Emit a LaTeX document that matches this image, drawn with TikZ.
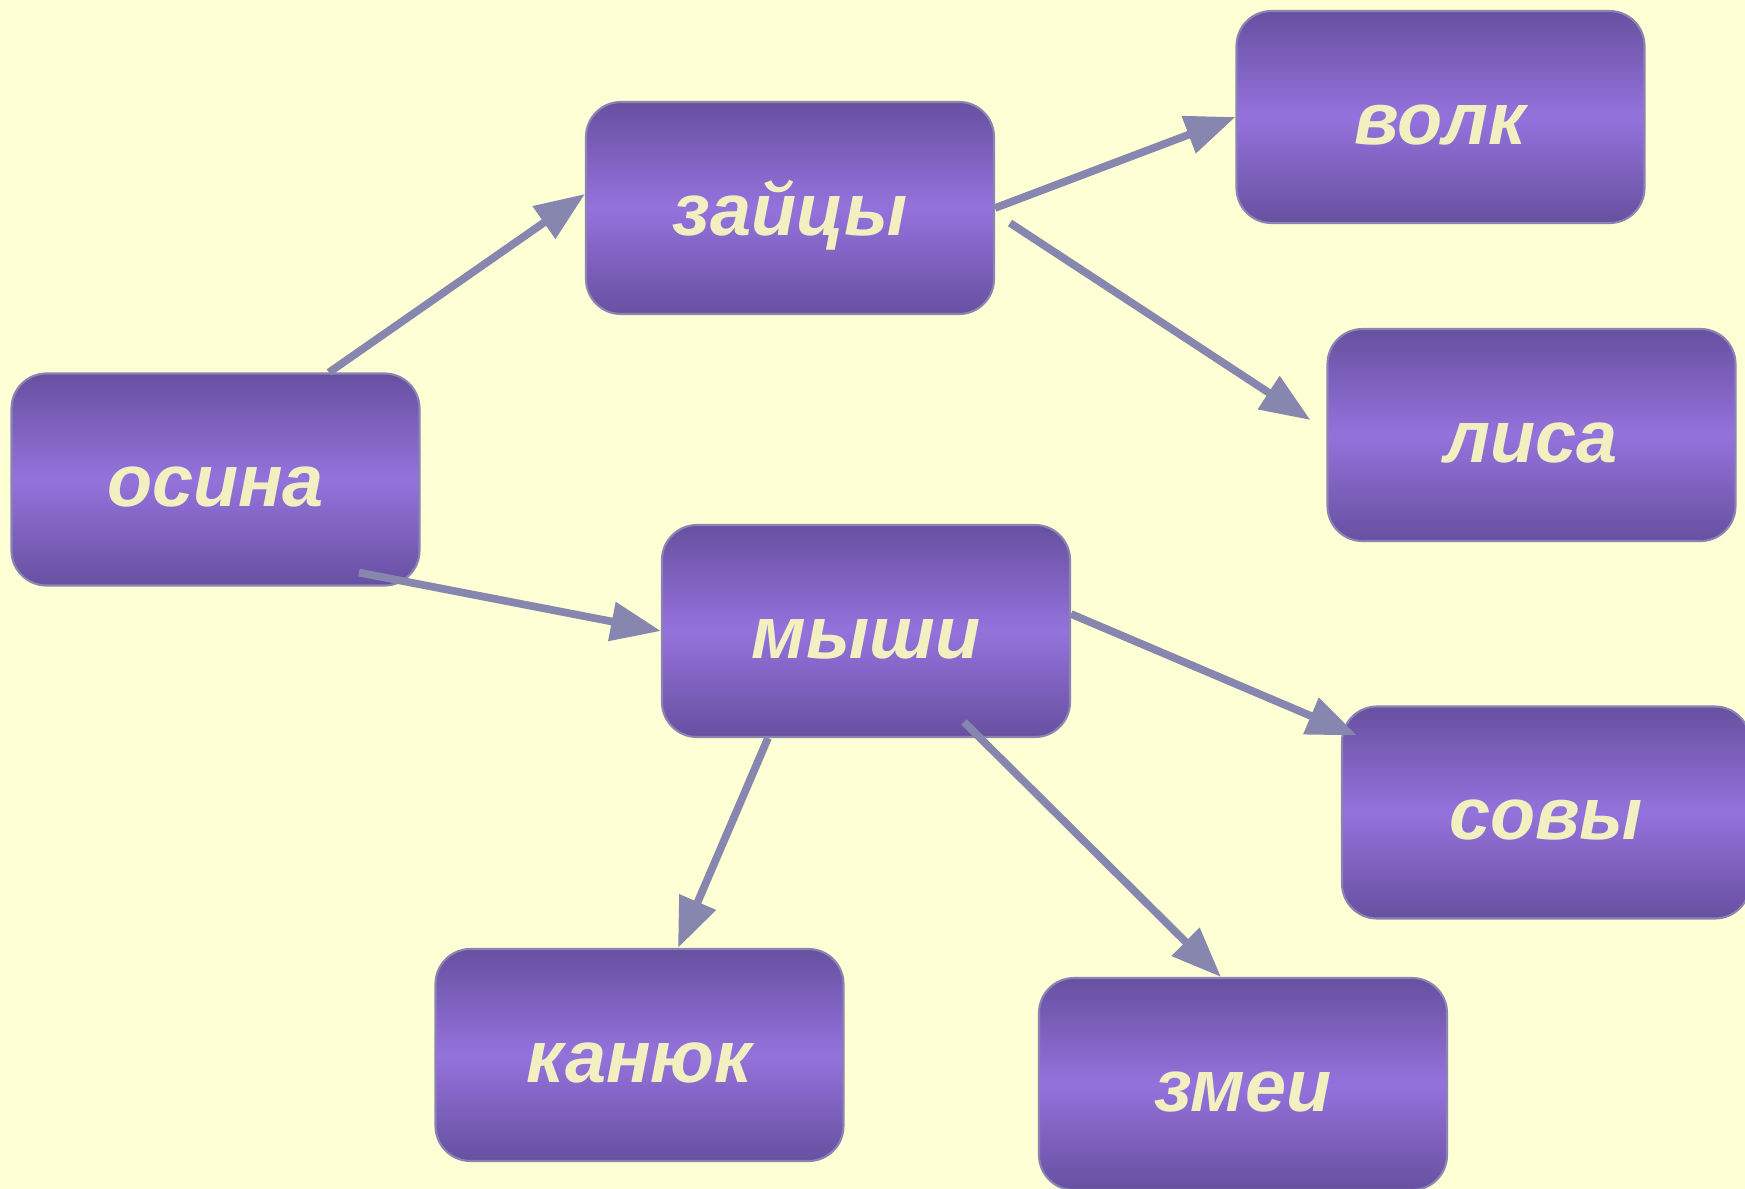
\documentclass[tikz,border=0pt]{standalone}
\usepackage{fontspec}
\setmainfont{Liberation Sans}
\usepackage{tikz}
\usetikzlibrary{arrows.meta,calc}
\definecolor{bgyellow}{RGB}{255,255,214}
\definecolor{boxdark}{RGB}{104,80,160}
\definecolor{boxlight}{RGB}{148,114,220}
\definecolor{boxline}{RGB}{138,132,178}
\definecolor{arrowgray}{RGB}{134,134,174}
\definecolor{wordcream}{RGB}{242,240,192}

\begin{document}
\begin{tikzpicture}[
  food/.style={rounded corners=0.35cm, draw=boxline, line width=0.6pt,
    top color=boxdark, bottom color=boxdark, middle color=boxlight,
    minimum width=4.08cm, minimum height=2.12cm, inner sep=0pt,
    text=wordcream, font=\fontsize{21}{25}\selectfont\bfseries\itshape,
    text height=0.54cm, text depth=0cm},
  eats/.style={draw=arrowgray, line width=2.2pt,
    -{Triangle[length=0.5cm,width=0.38cm]}}]
\fill[bgyellow] (0,0) rectangle (17.45,-11.89);
\useasboundingbox (0,0) rectangle (17.45,-11.89);
\node[food] (osina) at (2.155,-4.795) {осина};
\node[food] (zaycy) at (7.90,-2.08) {зайцы};
\node[food] (volk) at (14.405,-1.17) {волк};
\node[food] (lisa) at (15.315,-4.35) {лиса};
\node[food] (myshi) at (8.66,-6.31) {мыши};
\node[food] (sovy) at (15.46,-8.125) {совы};
\node[food] (kanyuk) at (6.395,-10.55) {канюк};
\node[food] (zmei) at (12.43,-10.84) {змеи};
% arrows
\draw[eats] ([xshift=1.135cm]osina.north) -- ([yshift=0.14cm]zaycy.west);
\draw[eats] (zaycy.east) -- (volk.west);
\draw[eats] ([shift={(0.15,-0.15)}]zaycy.east) -- ([shift={(-0.16,0.15)}]lisa.west);
\draw[eats] ([shift={(1.435,0.14)}]osina.south) -- (myshi.west);
\draw[eats] ([yshift=0.17cm]myshi.east) -- ([shift={(0.16,-0.30)}]sovy.north west);
\draw[eats] ([xshift=-0.98cm]myshi.south) -- ([xshift=0.385cm]kanyuk.north);
\draw[eats] ([shift={(0.98,-0.91)}]myshi.center) -- ([xshift=-0.22cm]zmei.north);
\end{tikzpicture}
\end{document}
